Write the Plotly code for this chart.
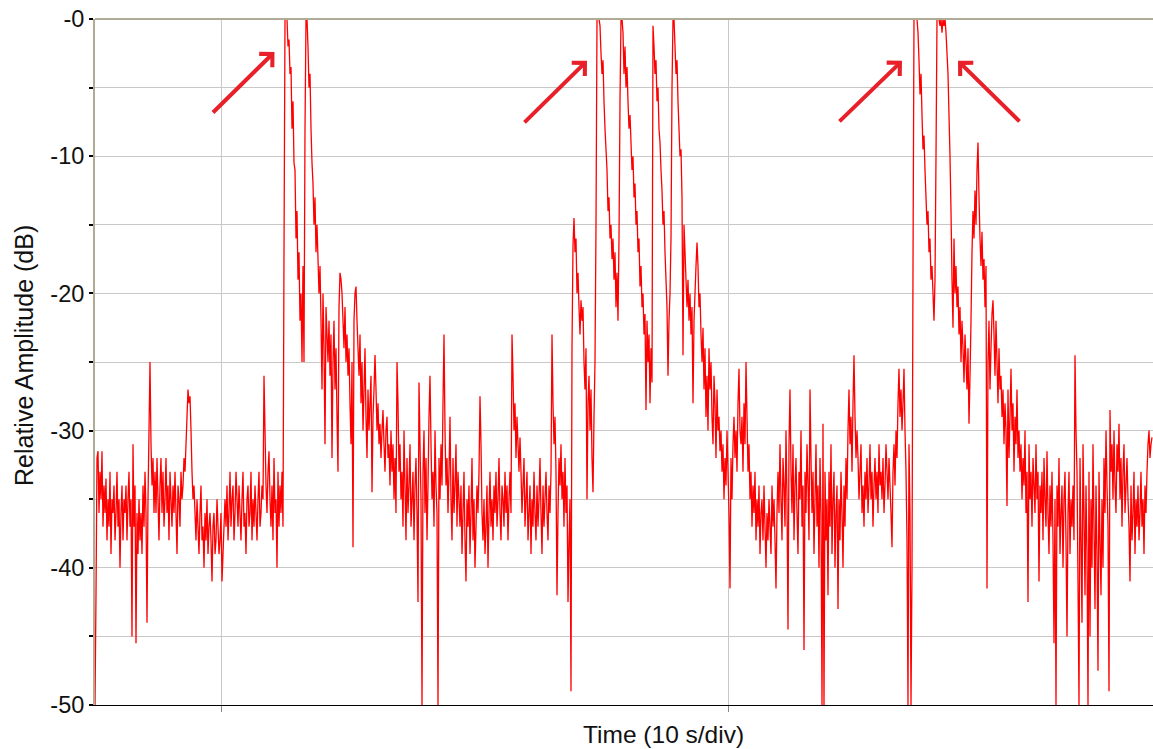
import plotly.graph_objects as go

# ---------------- data (relative amplitude in dB, one sample per time step) ----------------
SAMPLE_PERIOD = 10.0 / 507.0  # seconds per sample (10 s per division)

baseline_left = [
    -50, -42, -32, -31.5, -36, -33, -35, -31.5, -37, -34,
    -36, -33.5, -38, -35, -37, -33, -39, -35, -36, -34,
    -38, -36, -33, -37, -35, -40, -36, -34, -38, -35,
    -36, -34, -38, -35, -33, -37, -35, -45, -31, -37,
    -34, -45.5, -36, -39, -35, -38, -36, -39, -34, -37,
    -33, -36, -44, -35, -30, -25, -31, -34, -32, -36,
    -33, -36, -32, -35, -38, -34, -32, -36, -33, -37,
    -35, -32, -36, -34, -38, -33, -35, -37, -34, -36,
    -33, -36, -39, -34, -35, -37, -33, -35, -34, -32,
    -33, -31, -29, -27, -28, -27.5, -30, -33, -35, -34,
    -36, -38, -35, -37, -39, -36, -34, -38, -37, -40,
    -36, -38, -35, -39, -37, -36, -38, -41, -37, -36,
    -39, -38, -35, -37, -39, -38, -36, -41, -39, -37,
    -35, -37, -34, -38, -36, -33, -37, -35, -34, -38,
    -36, -33, -35, -37, -34, -36, -38, -35, -33, -37,
    -36, -39, -35, -34, -37, -36, -33, -38, -35, -37,
    -34, -36, -38, -35, -33, -37, -36, -34, -35, -26,
    -30, -34, -36, -33, -31.5, -35, -37, -34, -38, -32,
    -36, -35, -40, -33, -37, -34, -36, -33, -37, -17,
]

burst_1 = [
    0, 0, 0, -2, -1.5, -4, -3.5, -8, -6, -10.5,
    -11, -16, -14, -19, -17, -22, -20, -25, -18, -25,
    -8, 0, 0, -2, -5, -4, -8, -10.5, -12, -15,
    -13, -17, -15, -17.5, -20, -18, -22, -27, -20, -24,
    -31, -21, -23, -25, -22, -26,
]

decay_1_and_middle = [
    -23, -32, -25, -22, -27, -24, -29, -33, -21, -18.5,
    -19, -20, -22, -24, -21, -25, -23, -26, -24, -28,
    -31, -25, -38.5, -22, -20, -19.5, -22, -24, -26, -23,
    -28, -25, -30, -27, -24, -29, -32, -27, -30, -28,
    -26, -34.5, -29, -27, -24.5, -27, -30, -28, -31, -29.5,
    -32, -30, -28.5, -31, -33, -30, -29, -32, -31, -34,
    -30, -33, -31, -35, -32, -36, -25, -28, -33, -31,
    -35, -33, -37, -30, -34, -38, -32, -36, -34, -31,
    -37, -35, -33, -38, -34, -32, -36, -42.5, -26.5, -31,
    -35, -50, -33, -30, -36, -32, -38, -34, -29, -26,
    -31, -35, -33, -37, -30, -34, -36, -50, -32, -35,
    -31, -34, -28, -23, -30, -34, -32, -36, -33, -29,
    -35, -38, -32, -36, -34, -31, -37, -33, -35, -37,
    -34, -39, -36, -33, -38, -41, -35, -37, -34, -39,
    -36, -32, -38, -35, -40, -37, -34, -36, -33, -27.5,
    -31, -36, -38, -35, -39, -37, -34, -40, -36, -33,
    -37, -35, -38, -34, -36, -33, -37, -35, -32, -36,
    -38, -34, -35, -37, -33, -36, -34, -38, -35, -33,
    -36, -23, -26, -30, -28, -32, -29, -31, -33, -30.5,
    -33, -36, -34, -32, -37, -35, -33, -38, -36, -34,
    -39, -35, -37, -33, -36, -38, -34, -37, -35, -32,
    -36, -39, -34, -37, -35, -33, -36, -38, -34, -36,
    -33, -23, -28, -31, -29, -33, -42, -36, -32, -34,
    -31, -35, -33, -37, -32, -36, -34, -42.5, -38, -35,
]

burst_2 = [
    -49, -24, -16.5, -14.5, -17, -16, -20, -18.5, -21, -23,
    -20.5, -22, -21, -25, -27, -24, -35, -28, -26, -30,
    -27, -32, -34.5, -29, -25, -15, 0, 0, 0, -0.5,
    -2.5, -4, -3, -6, -8, -9.5, -11, -14, -13, -16,
    -15, -17.5, -16, -19, -17, -21, -18.5, -22, -16, -6,
    0, 0, -1, -4, -2, -5, -3.5, -6, -8, -7,
    -9, -11, -10, -13, -12, -15, -14, -17, -16, -19.5,
    -18, -21, -20, -23, -21.5, -28.5, -22, -25, -23, -28,
    -24, -26.5, -0.5, -2, -4, -3, -6, -5, -8, -9,
    -11, -12.5, -15, -14, -17, -19, -21, -26, -22, -20,
    -16, -5, 0, 0, -2, -4, -3, -6, -8, -10,
    -9.5, -13, -24.5, -15, -17, -19, -21, -19, -22, -20,
    -23, -21, -28, -22, -20, -18, -16.3, -18, -21, -20,
    -23, -25, -22.5, -27, -24, -29, -26, -30, -24, -27,
]

decay_2_and_middle = [
    -25, -29, -31, -26, -28, -32, -27, -30, -29, -31.5,
    -30, -33, -31, -35, -32, -34, -30, -33, -36, -41.5,
    -32, -35, -31, -29, -32, -30, -33, -28, -25.5, -30,
    -31, -29, -33, -28, -31, -25, -29, -33, -31, -35,
    -33, -37, -34, -36, -33, -38, -35, -37, -34, -39,
    -36, -35, -38, -34, -37, -40, -36, -38, -35, -37,
    -39, -34, -37, -35, -38, -41.5, -36, -33, -36, -31,
    -35, -38, -32, -34, -37, -30, -35, -44.5, -31, -27,
    -33, -36, -31, -38, -34, -32, -36, -39, -33, -35,
    -30, -37, -34, -46, -33, -36, -31, -34, -38, -27,
    -32, -36, -33, -39, -35, -31, -37, -34, -40, -32,
    -36, -50, -29.5, -50, -33, -38, -35, -42, -33, -37,
    -31, -39, -35, -33, -40, -36, -34, -43, -35, -38,
    -33, -36, -40, -34, -37, -32, -35, -30, -27, -31,
    -29, -33, -28, -24.5, -29, -32, -30, -32, -35, -33,
    -31, -36, -34, -37, -33, -35, -32, -36, -34, -31,
    -35, -33, -37, -34, -32, -35, -33, -36, -31, -34,
    -33, -35, -32, -36, -34, -31, -33, -35, -32, -34,
    -36, -38.5, -33, -31, -34, -30, -32, -28, -25.5, -29,
    -27, -30, -28, -25.5, -30, -33, -38, -50, -31, -36,
    -50, -40,
]

burst_3 = [
    -18, 0, 0, 0, 0, -1, -3, -5.5, -4, -7,
    -9.5, -8.5, -11, -13, -15, -14, -17, -16, -19, -18,
    -20, -22, -19, -10, 0, 0, 0, -0.5, 0, -1,
    0, -0.5, 0, -1, -2.5, -4, -7, -10, -14, -19,
    -22.5, -16, -20, -18, -21, -19.5, -23, -21, -25, -22,
    -24, -26.5, -23, -25, -27, -24, -29.5, -26, -22, -17,
    -14, -16, -12.5, -15, -11, -9, -13, -16, -18, -15.5,
    -19, -17.5, -21, -18, -41.5, -25, -22, -27, -24, -21.5,
    -20.5, -23, -26,
]

tail = [
    -22, -25, -28, -24, -27, -26, -29, -27, -31, -28,
    -30, -35.5, -27, -32, -29, -25.5, -30, -28, -33, -29,
    -31, -27, -32, -30, -33, -31, -35, -32, -34, -30,
    -36, -33, -42.5, -31, -35, -33, -37, -32, -34, -36,
    -31, -35, -33, -41, -34, -36, -33, -38, -32, -35,
    -37, -31.5, -36, -39, -34, -37, -33, -38, -45.5, -35,
    -50, -34, -37, -32, -39, -36, -34, -40, -35, -33,
    -38, -45, -36, -33, -39, -35, -37, -34, -38, -24.5,
    -30, -33, -41, -50, -32, -38, -44, -31, -36, -42,
    -34, -39, -50, -33, -45, -35, -40, -31, -37, -43,
    -34, -39, -47.5, -33, -38, -42, -35, -40, -32, -36,
    -30, -34, -37, -49, -28.5, -33, -31, -35, -30, -34,
    -36, -31, -33, -29.5, -35, -32, -37, -33, -31, -36,
    -34, -32, -35, -37, -41, -34, -38, -36, -33, -39,
    -35, -37, -34, -38, -36, -33, -37, -35, -39, -34,
    -36, -33, -31, -30, -32, -31, -30.5,
]

y_tick_values = [0, -5, -10, -15, -20, -25, -30, -35, -40, -45, -50]
y_tick_labels = ["-0", "", "-10", "", "-20", "", "-30", "", "-40", "", "-50"]

# annotation arrows: (time of tip [s], dB of tip, pixel offset of tail x, y)
arrow_tips = [(3.540, -2.4, -63, 62), (9.704, -3.05, -64, 63),
              (15.917, -3.05, -64, 62), (17.022, -3.05, 63, 62)]

# ---------------- build ----------------
amplitude = (baseline_left + burst_1 + decay_1_and_middle + burst_2
             + decay_2_and_middle + burst_3 + tail)
time = [i * SAMPLE_PERIOD for i in range(len(amplitude))]

TAN = "#b0ab94"
FONT = "Liberation Sans, Arial, sans-serif"

fig = go.Figure()
fig.add_trace(go.Scatter(
    x=time, y=amplitude, mode="lines",
    line=dict(color="#ff0000", width=1.3, simplify=False),
    hoverinfo="skip", showlegend=False,
))

fig.update_layout(
    width=1153, height=749,
    margin=dict(l=95, r=0, t=19, b=44),
    paper_bgcolor="white", plot_bgcolor="white",
    font=dict(family=FONT, color="#111111"),
    showlegend=False,
    xaxis=dict(
        range=[0, len(amplitude) * SAMPLE_PERIOD],
        tick0=126 * SAMPLE_PERIOD, dtick=10,
        showticklabels=False, ticks="outside", ticklen=6, tickwidth=1, tickcolor="#888888",
        showgrid=True, gridcolor="#c8c8c8", gridwidth=1,
        showline=True, linecolor="#000000", linewidth=1,
        zeroline=False, fixedrange=True,
    ),
    yaxis=dict(
        range=[-50, 0],
        tickmode="array", tickvals=y_tick_values, ticktext=y_tick_labels,
        ticks="outside", ticklen=4, tickwidth=2, tickcolor="#000000",
        tickfont=dict(family=FONT, size=23.5, color="#111111"),
        showgrid=True, gridcolor="#c8c8c8", gridwidth=1,
        showline=True, linecolor=TAN, linewidth=2,
        zeroline=False, fixedrange=True,
    ),
)

# top frame line
fig.add_shape(type="line", xref="paper", yref="paper", x0=0, x1=1, y0=1, y1=1,
              line=dict(color=TAN, width=2))

# axis titles
fig.add_annotation(text="Time (10 s/div)", xref="paper", yref="paper",
                   x=0.5378, y=-0.0437, showarrow=False, xanchor="center", yanchor="middle",
                   font=dict(family=FONT, size=24.5, color="#111111"))
fig.add_annotation(text="Relative Amplitude (dB)", xref="paper", yref="paper",
                   x=-0.0666, y=0.5095, showarrow=False, textangle=-90,
                   xanchor="center", yanchor="middle",
                   font=dict(family=FONT, size=25, color="#111111"))

# red arrows
for tx, ty, axp, ayp in arrow_tips:
    fig.add_annotation(x=tx, y=ty, xref="x", yref="y", ax=axp, ay=ayp, text="",
                       showarrow=True, arrowhead=4, arrowsize=0.9, arrowwidth=4,
                       arrowcolor="#e8202a", standoff=0)

fig.write_html("out.html")
